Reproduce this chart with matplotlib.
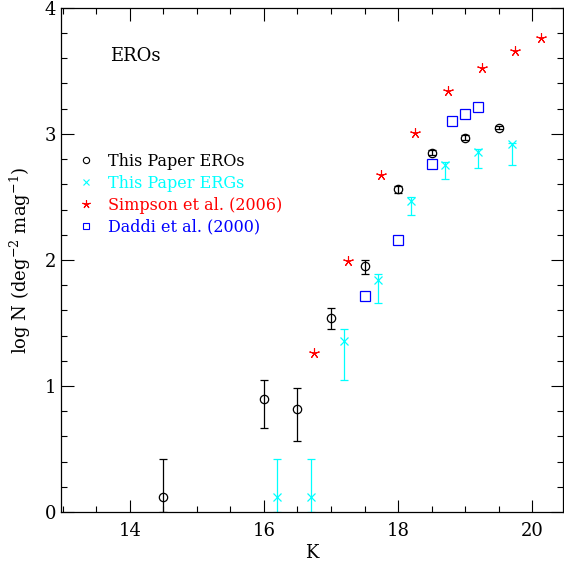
import matplotlib
matplotlib.use("Agg")
import matplotlib.pyplot as plt
from matplotlib.lines import Line2D
from matplotlib.ticker import MultipleLocator

plt.rcParams['font.family'] = ['DejaVu Serif']
plt.rcParams['mathtext.fontset'] = 'dejavuserif'

# This Paper EROs
ero_k = [14.5, 16.0, 16.5, 17.0, 17.5, 18.0, 18.5, 19.0, 19.5]
ero_n = [0.12, 0.90, 0.82, 1.54, 1.95, 2.56, 2.85, 2.97, 3.05]
ero_lo = [0.12, 0.23, 0.26, 0.09, 0.06, 0.03, 0.02, 0.02, 0.015]
ero_hi = [0.30, 0.15, 0.16, 0.08, 0.05, 0.03, 0.02, 0.02, 0.015]

# This Paper ERGs
erg_k = [16.2, 16.7, 17.2, 17.7, 18.2, 18.7, 19.2, 19.7]
erg_n = [0.12, 0.12, 1.36, 1.84, 2.47, 2.75, 2.86, 2.92]
erg_lo = [0.12, 0.12, 0.31, 0.18, 0.11, 0.11, 0.13, 0.17]
erg_hi = [0.30, 0.30, 0.09, 0.05, 0.03, 0.03, 0.02, 0.01]

# Simpson et al. (2006)
sim_k = [16.75, 17.25, 17.75, 18.25, 18.75, 19.25, 19.75, 20.13]
sim_n = [1.26, 1.99, 2.67, 3.01, 3.34, 3.52, 3.66, 3.76]

# Daddi et al. (2000)
dad_k = [17.5, 18.0, 18.5, 18.8, 19.0, 19.2]
dad_n = [1.71, 2.16, 2.76, 3.10, 3.16, 3.21]

labels = ['This Paper EROs', 'This Paper ERGs', 'Simpson et al. (2006)', 'Daddi et al. (2000)']
colors = ['black', 'cyan', 'red', 'blue']

fig = plt.figure(figsize=(5.64, 5.62), dpi=100)
ax = fig.add_axes([0.108, 0.089, 0.890, 0.897])

ax.errorbar(ero_k, ero_n, yerr=[ero_lo, ero_hi], fmt='o', mfc='none', mec='black',
            ecolor='black', ms=6, mew=0.9, elinewidth=0.9, capsize=3, capthick=0.9)
ax.errorbar(erg_k, erg_n, yerr=[erg_lo, erg_hi], fmt='x', color='cyan',
            ecolor='cyan', ms=5.5, mew=0.9, elinewidth=0.9, capsize=3, capthick=0.9)
ax.plot(sim_k, sim_n, linestyle='none', marker=(5, 2, 0), color='red', ms=7.5, mew=0.8)
ax.plot(dad_k, dad_n, linestyle='none', marker='s', mfc='none', mec='blue', ms=7, mew=0.9)

ax.set_xlim(12.97, 20.46)
ax.set_ylim(0, 4)
ax.xaxis.set_major_locator(MultipleLocator(2))
ax.xaxis.set_minor_locator(MultipleLocator(0.5))
ax.yaxis.set_major_locator(MultipleLocator(1))
ax.yaxis.set_minor_locator(MultipleLocator(0.2))
ax.tick_params(which='both', direction='in', top=True, right=True, labelsize=13, width=0.8)
ax.tick_params(axis='x', which='both', pad=7)
ax.tick_params(which='major', length=9)
ax.tick_params(which='minor', length=4.5)
for s in ax.spines.values():
    s.set_linewidth(0.9)

ax.set_xlabel('K', fontsize=13, labelpad=3)
ax.set_ylabel(r'log N (deg$^{-2}$ mag$^{-1}$)', fontsize=13, labelpad=8)

ax.text(0.098, 0.905, 'EROs', transform=ax.transAxes, fontsize=13, va='center')

handles = [
    Line2D([], [], ls='none', marker='o', mfc='none', mec='black', ms=4.5, mew=0.8),
    Line2D([], [], ls='none', marker='x', color='cyan', ms=4.5, mew=0.8),
    Line2D([], [], ls='none', marker=(5, 2, 0), color='red', ms=6, mew=0.8),
    Line2D([], [], ls='none', marker='s', mfc='none', mec='blue', ms=5, mew=0.8),
]
leg = ax.legend(handles, labels, loc='upper left', bbox_to_anchor=(0.012, 0.735), frameon=False,
                fontsize=11.5, handlelength=1.0, handletextpad=0.9, labelspacing=0.31,
                borderaxespad=0.3)
for t, c in zip(leg.get_texts(), colors):
    t.set_color(c)

fig.savefig('out.png', dpi=100)
